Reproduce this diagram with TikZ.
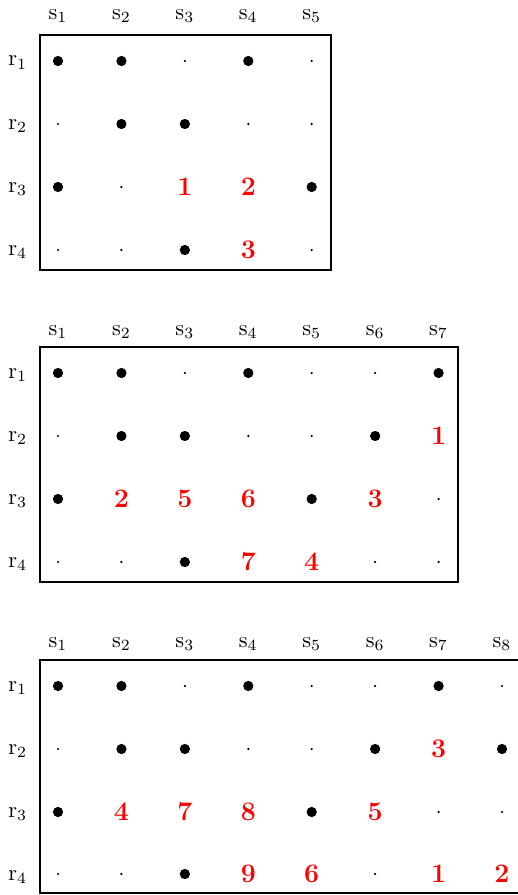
\documentclass[tikz,border=0pt]{standalone}
\definecolor{numred}{RGB}{255,0,0}
\tikzset{
  bigdot/.style={circle,fill=black,inner sep=0pt,minimum size=4.6pt},
  smalldot/.style={circle,fill=black,inner sep=0pt,minimum size=1.1pt},
  num/.style={text=numred,font=\large\bfseries,inner sep=0pt},
  lab/.style={inner sep=0pt,anchor=base},
  rowlab/.style={inner sep=0pt,anchor=base west},
  frame/.style={draw=black,line width=0.85pt},
}
\def\tB{B}\def\tO{o}
\newcommand\cellrow[4]{%
  \foreach \v [count=\c] in {#4} {
    \pgfmathsetmacro\xx{58+63.43*(\c-1)}
    \ifx\v\tB \node[bigdot] (g#1r#2c\c) at (\xx,#3) {};
    \else\ifx\v\tO \node[smalldot] (g#1r#2c\c) at (\xx,#3) {};
    \else \node[num] (g#1r#2c\c) at (\xx,#3) {\v};
    \fi\fi
  }}
\newcommand\headers[3]{% grid, baseline y, number of columns
  \foreach \c in {1,...,#3} {
    \pgfmathsetmacro\xx{58+63.43*(\c-1)}
    \node[lab] (g#1s\c) at (\xx,#2) {$\mathrm{s}_{\c}$};
  }}
\newcommand\rowlabels[2]{% grid, first row y
  \foreach \r in {1,...,4} {
    \pgfmathsetmacro\yy{#2+63*(\r-1)+5}
    \node[rowlab] (g#1r\r) at (8,\yy) {$\mathrm{r}_{\r}$};
  }}
\begin{document}
\begin{tikzpicture}[x=0.4488pt,y=-0.4488pt]
\useasboundingbox (0,0) rectangle (518,895);
% grid 1
\coordinate (b1nw) at (40,35);
\coordinate (b1se) at (331,270);
\draw[frame] (b1nw) rectangle (b1se);
\headers{1}{19.5}{5}
\rowlabels{1}{61}
\cellrow{1}{1}{61}{B,B,o,B,o}
\cellrow{1}{2}{124}{o,B,B,o,o}
\cellrow{1}{3}{187}{B,o,1,2,B}
\cellrow{1}{4}{250}{o,o,B,3,o}
% grid 2
\coordinate (b2nw) at (40,347);
\coordinate (b2se) at (458,582);
\draw[frame] (b2nw) rectangle (b2se);
\headers{2}{335}{7}
\rowlabels{2}{373}
\cellrow{2}{1}{373}{B,B,o,B,o,o,B}
\cellrow{2}{2}{436}{o,B,B,o,o,B,1}
\cellrow{2}{3}{499}{B,2,5,6,B,3,o}
\cellrow{2}{4}{562}{o,o,B,7,4,o,o}
% grid 3
\coordinate (b3nw) at (40,660);
\coordinate (b3se) at (522,893);
\draw[frame] (b3nw) rectangle (b3se);
\headers{3}{647}{8}
\rowlabels{3}{686}
\cellrow{3}{1}{686}{B,B,o,B,o,o,B,o}
\cellrow{3}{2}{749}{o,B,B,o,o,B,3,B}
\cellrow{3}{3}{812}{B,4,7,8,B,5,o,o}
\cellrow{3}{4}{874}{o,o,B,9,6,o,1,2}
\end{tikzpicture}
\end{document}
